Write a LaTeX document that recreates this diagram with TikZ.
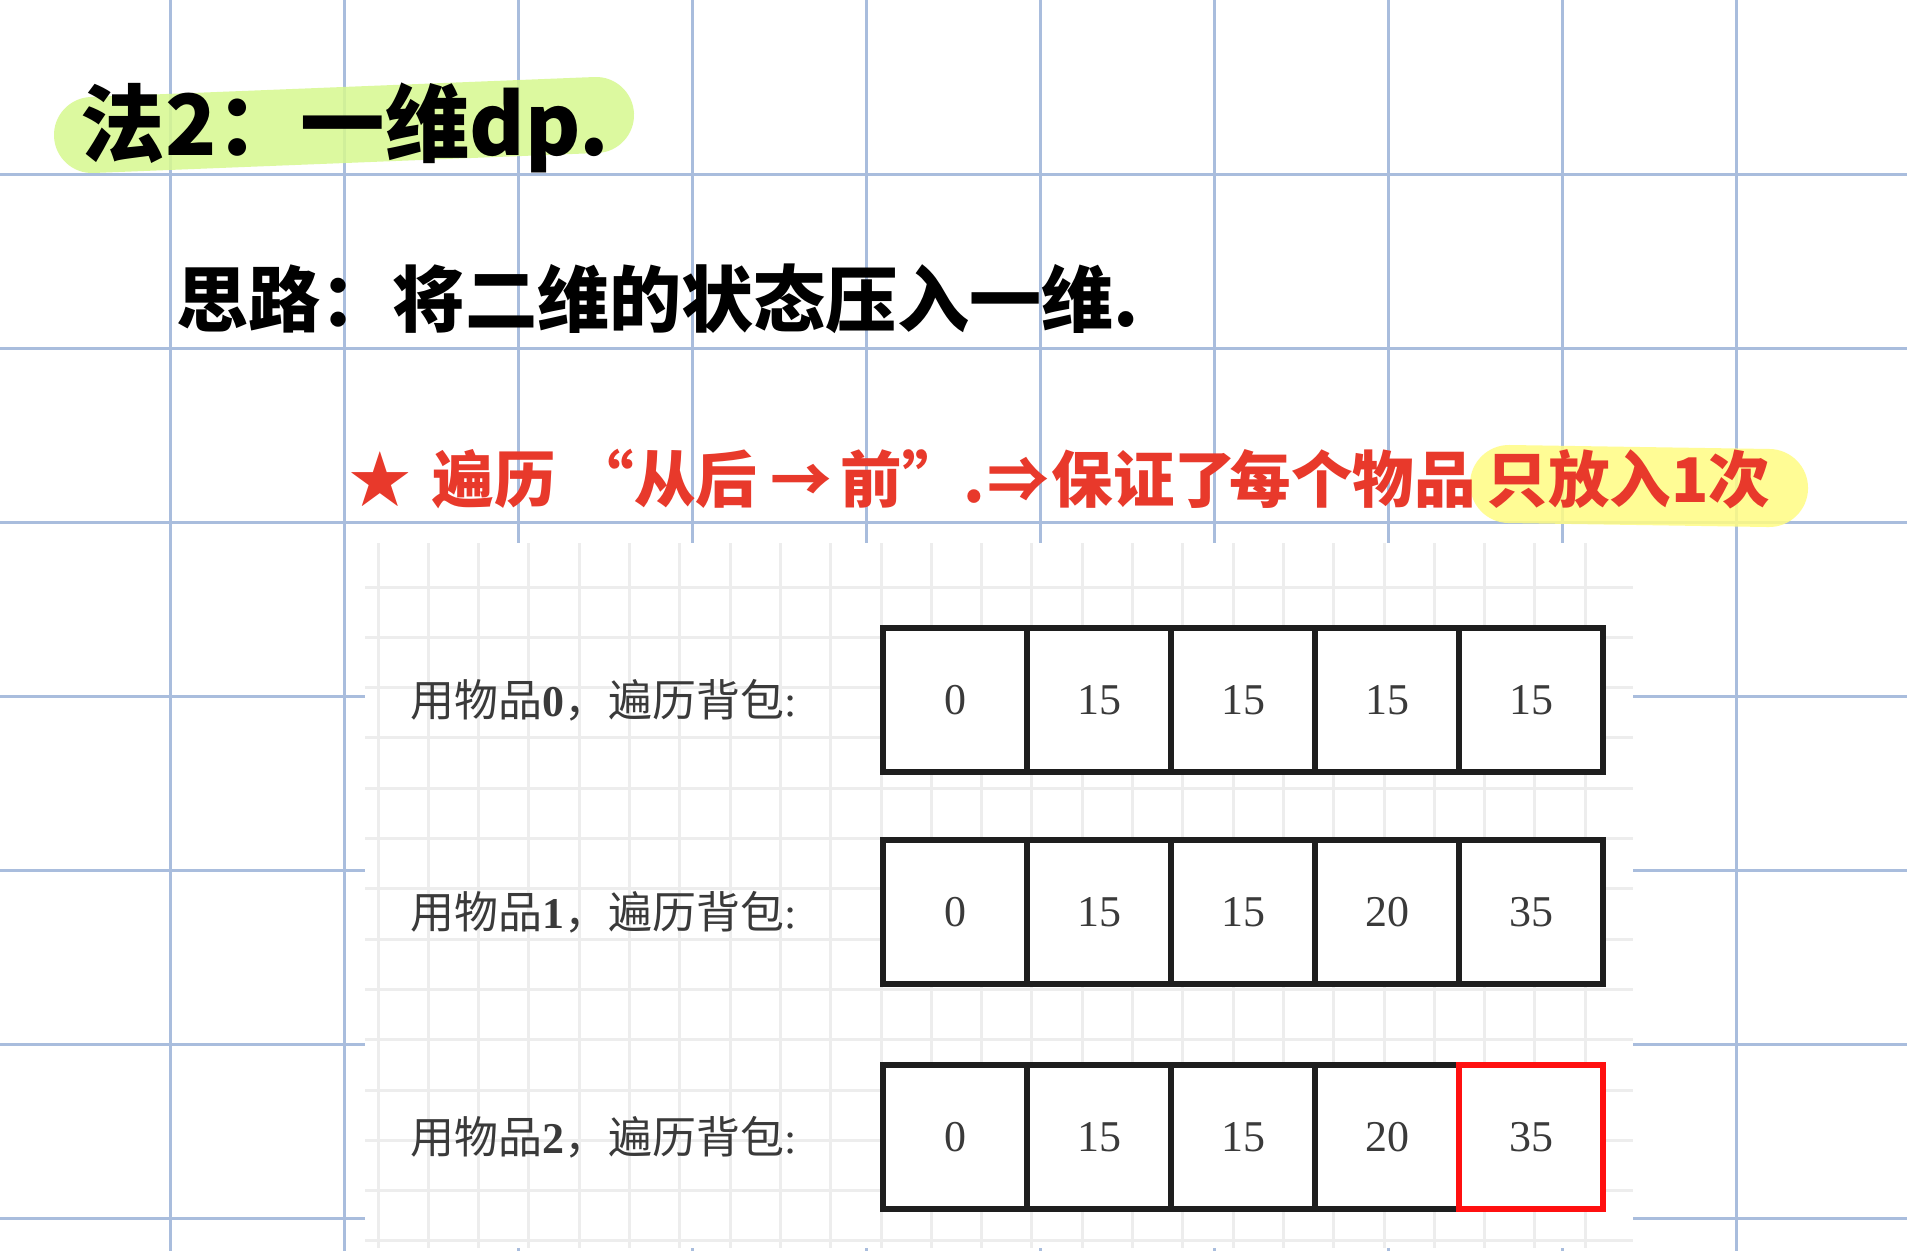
\documentclass[tikz,border=0pt]{standalone}
\usepackage{fontspec}
\setmainfont{Liberation Serif}
\newfontfamily\cjk{Noto Sans CJK SC}
\newlength\pxu
\setlength\pxu{0.01cm}
\newcommand\seg[2]{\makebox[#1\pxu][l]{#2}}
\definecolor{gridblue}{HTML}{A9BDDD}
\definecolor{shotgrid}{HTML}{EDEDED}
\definecolor{hlgreen}{RGB}{215,248,143}
\definecolor{hlyellow}{RGB}{255,252,131}
\definecolor{inkred}{HTML}{E8392B}
\definecolor{txtgray}{HTML}{3A3A3A}
\definecolor{boxline}{HTML}{1E1E1E}
\definecolor{hotred}{HTML}{FF1010}
\begin{document}
\begin{tikzpicture}[x=0.01cm, y=-0.01cm,
  bluegrid/.style={draw=gridblue, line width=0.03cm},
  shotline/.style={draw=shotgrid, line width=0.03cm},
  cell/.style={draw=boxline, line width=0.055cm, minimum width=1.44cm, minimum height=1.44cm,
    inner sep=0pt, outer sep=0pt, fill=white, text=txtgray, font=\fontsize{12.5}{15}\selectfont},
  hotcell/.style={cell, draw=hotred},
  rowlabel/.style={anchor=west, inner sep=0pt, text=txtgray, font=\cjk\fontsize{12.5}{15}\selectfont},
  hand/.style={anchor=base west, inner sep=0pt},
  marker/.style={line cap=round, opacity=0.85}
]
\useasboundingbox (0,0) rectangle (1907,1251);
\fill[white] (0,0) rectangle (1907,1251);
% notebook grid
\foreach \x in {170,344,...,1736} \draw[bluegrid] (\x,0) -- (\x,1251);
\foreach \y in {174,348,...,1218} \draw[bluegrid] (0,\y) -- (1907,\y);
% highlights
\draw[marker, draw=hlgreen, line width=0.76cm] (92,135) -- (596,115);
\draw[marker, draw=hlyellow, line width=0.78cm] (1509,484) -- (1769,488);
% handwritten lines
\node[hand, font=\cjk\bfseries\fontsize{24}{28}\selectfont] (title) at (80,155) {法2：一维dp.};
\node[hand, font=\cjk\bfseries\fontsize{20.5}{24}\selectfont] (idea) at (176,326) {思路：将二维的状态压入一维.};
\node[hand, text=inkred, font=\cjk\bfseries\fontsize{17.5}{21}\selectfont] (note) at (349,502)
  {\seg{83}{★}\seg{140}{遍历}\seg{198}{“从后}\seg{70}{→}\seg{147}{前”.}\seg{64}{⇒}\seg{178}{保证了}\seg{257}{每个物品}只放入1次};
% pasted screenshot
\fill[white] (365,543) rectangle (1633,1248);
\foreach \i in {0,...,24} \draw[shotline] ({378+50.3*\i},543) -- ({378+50.3*\i},1248);
\foreach \j in {0,...,13} \draw[shotline] (365,{587+50.3*\j}) -- (1633,{587+50.3*\j});
% row labels
\node[rowlabel] (lab0) at (410,700) {用物品{\rmfamily\bfseries 0}，遍历背包{\rmfamily :}};
\node[rowlabel] (lab1) at (410,912) {用物品{\rmfamily\bfseries 1}，遍历背包{\rmfamily :}};
\node[rowlabel] (lab2) at (410,1137) {用物品{\rmfamily\bfseries 2}，遍历背包{\rmfamily :}};
% dp arrays
\foreach \v [count=\c] in {0,15,15,15,15}
  \node[cell] (a\c) at ({883+144*\c-72},700) {\v};
\foreach \v [count=\c] in {0,15,15,20,35}
  \node[cell] (b\c) at ({883+144*\c-72},912) {\v};
\foreach \v [count=\c] in {0,15,15,20}
  \node[cell] (d\c) at ({883+144*\c-72},1137) {\v};
\node[hotcell] (d5) at (1531,1137) {35};
\end{tikzpicture}
\end{document}
